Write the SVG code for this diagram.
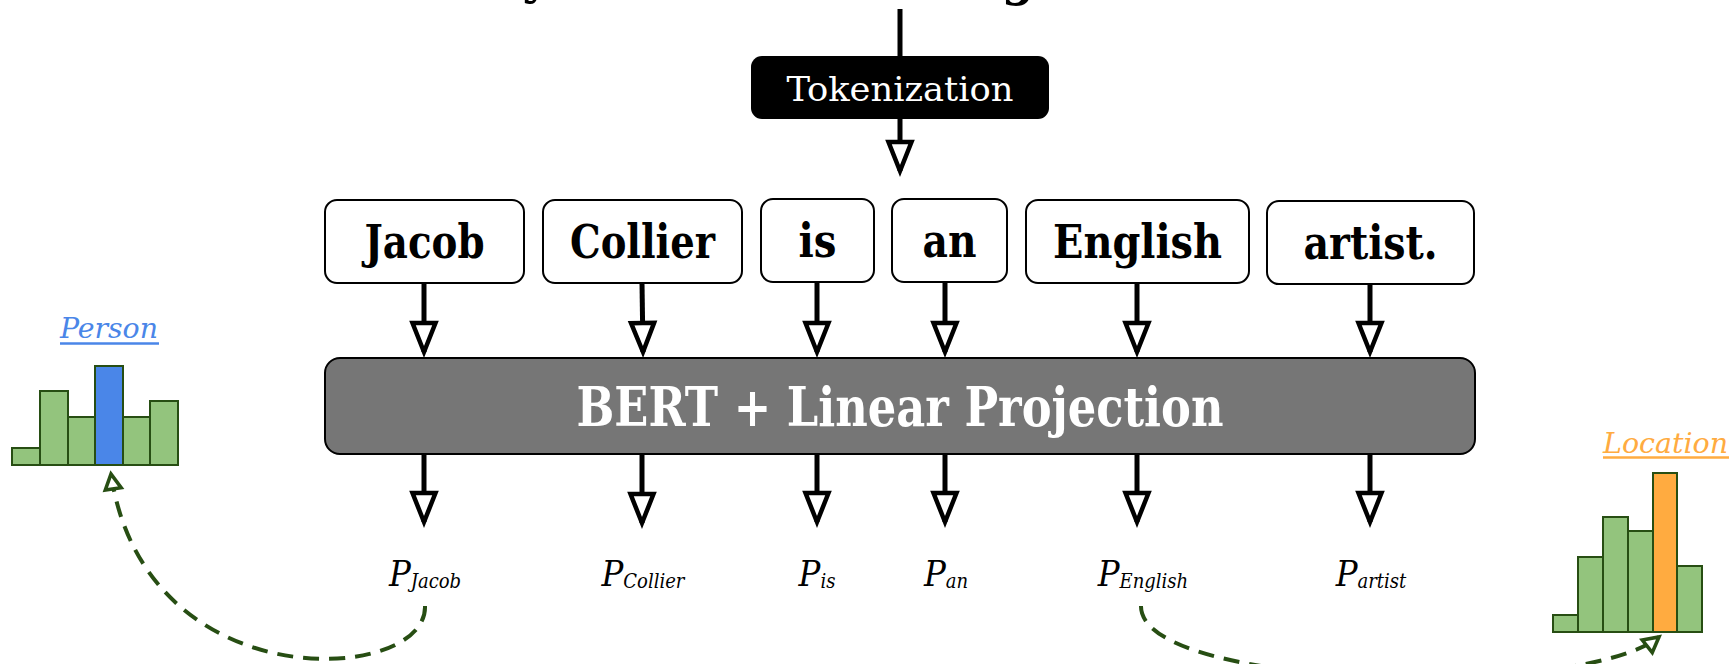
<svg xmlns="http://www.w3.org/2000/svg" width="1731" height="664" viewBox="0 0 1731 664">
  <style>
    .tok { fill: #ffffff; stroke: #000000; stroke-width: 2; }
    .word { font-family: 'DejaVu Serif Condensed', 'DejaVu Serif', serif; font-weight: bold; font-size: 46px; fill: #000000; text-anchor: middle; }
    .white { font-family: 'DejaVu Serif Condensed', 'DejaVu Serif', serif; fill: #ffffff; text-anchor: middle; }
    .flow { stroke: #000000; stroke-width: 5; fill: none; marker-end: url(#tri); }
    .plabel { font-family: 'DejaVu Serif Condensed', 'DejaVu Serif', serif; font-style: italic; font-size: 36px; fill: #000000; text-anchor: middle; }
    .sub { font-size: 20px; }
    .bar { fill: #93c47d; stroke: #274e13; stroke-width: 2; }
    .link { stroke: #274e13; stroke-width: 4; fill: none; stroke-dasharray: 16 10; marker-end: url(#gtri); }
    .cls { font-family: 'DejaVu Serif Condensed', 'DejaVu Serif', serif; font-style: italic; font-size: 28px; }
  </style>
  <defs>
    <marker id="tri" markerUnits="userSpaceOnUse" markerWidth="46" markerHeight="32" viewBox="0 0 46 32" refX="36" refY="16" orient="auto" overflow="visible">
      <path d="M7,4.5 L36,16 L7,27.5 Z" fill="#ffffff" stroke="#000000" stroke-width="4.5"/>
    </marker>
    <marker id="gtri" markerUnits="userSpaceOnUse" markerWidth="26" markerHeight="24" viewBox="0 0 26 24" refX="19" refY="12" orient="auto" overflow="visible">
      <path d="M4,4 L19,12 L4,20 Z" fill="#ffffff" stroke="#274e13" stroke-width="3.6"/>
    </marker>
  </defs>

  <rect width="1731" height="664" fill="#ffffff"/>

  <!-- descenders of the heading line above the frame -->
  <g id="heading" font-family="'DejaVu Serif Condensed', 'DejaVu Serif', serif" font-size="52" font-weight="bold" fill="#000000" text-anchor="middle">
    <text x="536" y="-8">y</text>
    <text x="1018" y="-6">g</text>
  </g>

  <g id="connectors">
    <line x1="900" y1="9" x2="900" y2="56" stroke="#000000" stroke-width="5"/>
    <line class="flow" x1="900" y1="118" x2="900" y2="171"/>
    <!-- tokens into the encoder -->
    <line class="flow" x1="424" y1="283" x2="424" y2="352"/>
    <line class="flow" x1="642" y1="283" x2="643" y2="352"/>
    <line class="flow" x1="817" y1="282" x2="817" y2="352"/>
    <line class="flow" x1="945" y1="282" x2="945" y2="352"/>
    <line class="flow" x1="1137" y1="283" x2="1137" y2="352"/>
    <line class="flow" x1="1370" y1="284" x2="1370" y2="352"/>
    <!-- encoder outputs -->
    <line class="flow" x1="424" y1="454" x2="424" y2="522"/>
    <line class="flow" x1="642" y1="454" x2="642" y2="523"/>
    <line class="flow" x1="817" y1="454" x2="817" y2="522"/>
    <line class="flow" x1="945" y1="454" x2="945" y2="522"/>
    <line class="flow" x1="1137" y1="454" x2="1137" y2="522"/>
    <line class="flow" x1="1370" y1="454" x2="1370" y2="522"/>
    <!-- predictions to class distributions -->
    <path class="link" d="M425,606 C428,684 145,702 111,474"/>
    <path class="link" d="M1141,606 C1140,690 1580,700 1659,637"/>
  </g>

  <g id="tokenization">
    <rect x="751" y="56" width="298" height="63" rx="11" fill="#000000"/>
    <text class="white" x="900" y="101" font-size="34" font-weight="500" textLength="227" lengthAdjust="spacingAndGlyphs">Tokenization</text>
  </g>

  <g id="tok-jacob">
    <rect class="tok" x="325" y="200" width="199" height="83" rx="12"/>
    <text class="word" x="424.5" y="258" textLength="120" lengthAdjust="spacingAndGlyphs">Jacob</text>
  </g>
  <g id="tok-collier">
    <rect class="tok" x="543" y="200" width="199" height="83" rx="12"/>
    <text class="word" x="642.5" y="258" textLength="145" lengthAdjust="spacingAndGlyphs">Collier</text>
  </g>
  <g id="tok-is">
    <rect class="tok" x="761" y="199" width="113" height="83" rx="12"/>
    <text class="word" x="817.5" y="257" textLength="38" lengthAdjust="spacingAndGlyphs">is</text>
  </g>
  <g id="tok-an">
    <rect class="tok" x="892" y="199" width="115" height="83" rx="12"/>
    <text class="word" x="949.5" y="257" textLength="54" lengthAdjust="spacingAndGlyphs">an</text>
  </g>
  <g id="tok-english">
    <rect class="tok" x="1026" y="200" width="223" height="83" rx="12"/>
    <text class="word" x="1137.5" y="258" textLength="169" lengthAdjust="spacingAndGlyphs">English</text>
  </g>
  <g id="tok-artist">
    <rect class="tok" x="1267" y="201" width="207" height="83" rx="12"/>
    <text class="word" x="1370.5" y="259" textLength="134" lengthAdjust="spacingAndGlyphs">artist.</text>
  </g>

  <g id="encoder">
    <rect x="325" y="358" width="1150" height="96" rx="15" fill="#767676" stroke="#000000" stroke-width="2"/>
    <text class="white" x="900" y="426" font-size="54" font-weight="bold" textLength="647" lengthAdjust="spacingAndGlyphs">BERT + Linear Projection</text>
  </g>

  <g id="predictions">
    <text class="plabel" x="425" y="586">P<tspan class="sub" dy="2">Jacob</tspan></text>
    <text class="plabel" x="643" y="586">P<tspan class="sub" dy="2">Collier</tspan></text>
    <text class="plabel" x="817" y="586">P<tspan class="sub" dy="2">is</tspan></text>
    <text class="plabel" x="946" y="586">P<tspan class="sub" dy="2">an</tspan></text>
    <text class="plabel" x="1143" y="586">P<tspan class="sub" dy="2">English</tspan></text>
    <text class="plabel" x="1371" y="586">P<tspan class="sub" dy="2">artist</tspan></text>
  </g>

  <g id="person">
    <text class="cls" x="60" y="338" fill="#4a86e8" textLength="98" lengthAdjust="spacingAndGlyphs">Person</text>
    <line x1="60" y1="343.5" x2="159" y2="343.5" stroke="#4a86e8" stroke-width="2.5"/>
    <rect class="bar" x="12" y="448" width="28" height="17"/>
    <rect class="bar" x="40" y="391" width="28" height="74"/>
    <rect class="bar" x="68" y="417" width="27" height="48"/>
    <rect class="bar" x="95" y="366" width="28" height="99" style="fill:#4a86e8"/>
    <rect class="bar" x="123" y="417" width="27" height="48"/>
    <rect class="bar" x="150" y="401" width="28" height="64"/>
  </g>

  <g id="location">
    <text class="cls" x="1603" y="453" fill="#ffab40" textLength="125" lengthAdjust="spacingAndGlyphs">Location</text>
    <line x1="1603" y1="457.5" x2="1729" y2="457.5" stroke="#ffab40" stroke-width="2.5"/>
    <rect class="bar" x="1553" y="615" width="25" height="17"/>
    <rect class="bar" x="1578" y="557" width="25" height="75"/>
    <rect class="bar" x="1603" y="517" width="25" height="115"/>
    <rect class="bar" x="1628" y="531" width="25" height="101"/>
    <rect class="bar" x="1653" y="473" width="24" height="159" style="fill:#ffab40"/>
    <rect class="bar" x="1677" y="566" width="25" height="66"/>
  </g>
</svg>
